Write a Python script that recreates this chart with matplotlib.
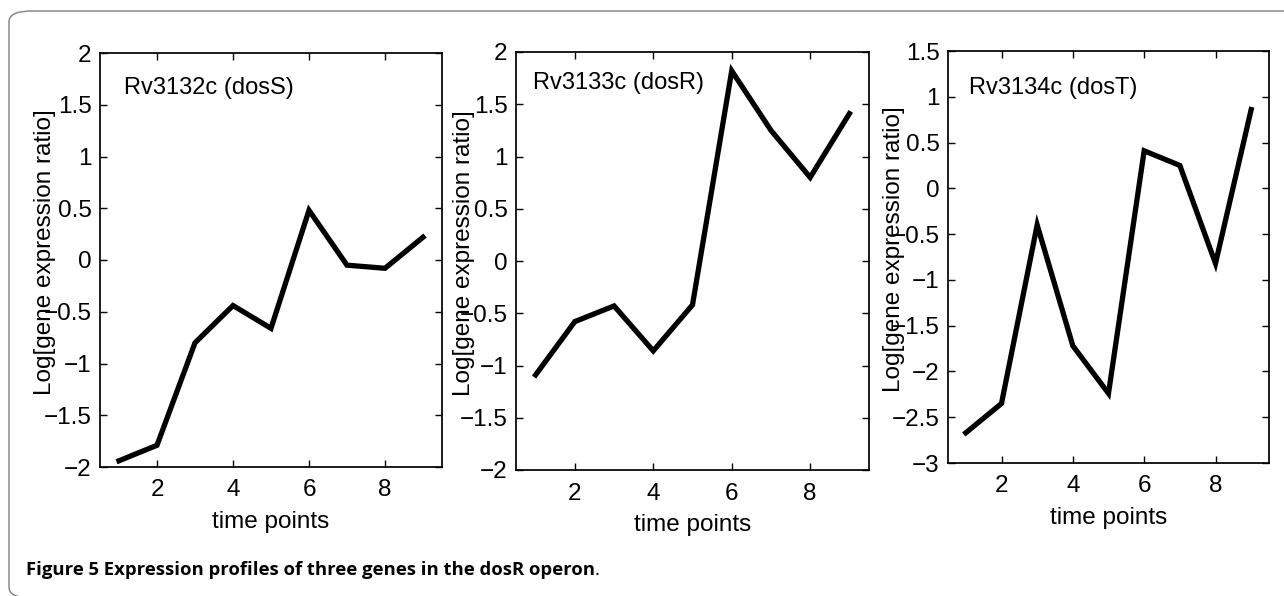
import matplotlib
matplotlib.use("Agg")
import matplotlib.pyplot as plt
from matplotlib.patches import FancyBboxPatch

time_points = [1, 2, 3, 4, 5, 6, 7, 8, 9]
dosS = [-1.94, -1.79, -0.80, -0.44, -0.66, 0.48, -0.05, -0.08, 0.22]
dosR = [-1.09, -0.58, -0.43, -0.86, -0.42, 1.82, 1.25, 0.80, 1.41]
dosT = [-2.67, -2.35, -0.40, -1.72, -2.24, 0.41, 0.25, -0.82, 0.86]
titles = ["Rv3132c (dosS)", "Rv3133c (dosR)", "Rv3134c (dosT)"]
ylims = [(-2, 2), (-2, 2), (-3, 1.5)]
xticks = [2, 4, 6, 8]
ylabel = "Log[gene expression ratio]"
xlabel = "time points"
caption_bold = "Figure 5 Expression profiles of three genes in the dosR operon"
caption_end = "."

plt.rcParams['font.family'] = ['Liberation Sans', 'DejaVu Sans']

W, H = 1284, 596
fig = plt.figure(figsize=(W / 100, H / 100), dpi=100)

# frame with rounded corners
frame = FancyBboxPatch((9 / W, -2 / H), (W + 40) / W, (H - 11 + 2) / H,
                       boxstyle="round,pad=0,rounding_size=0.018",
                       transform=fig.transFigure, facecolor='none',
                       edgecolor='#7f7f7f', linewidth=1.0, clip_on=False)
fig.patches.append(frame)

# axes rectangles in pixels: left, top, right, bottom
rects = [(100, 53, 442, 467), (516, 52, 869, 470), (948, 51, 1269, 463)]
ylab_x = [-0.129, -0.116, -0.134]
title_pos = [(0.07, 0.915), (0.048, 0.927), (0.064, 0.91)]
series = [dosS, dosR, dosT]

FS = 17.5
for i, (l, t, r, b) in enumerate(rects):
    ax = fig.add_axes([l / W, (H - b) / H, (r - l) / W, (b - t) / H])
    ax.plot(time_points, series[i], color='black', linewidth=3.8,
            solid_joinstyle='miter')
    ax.set_xlim(0.5, 9.5)
    ax.set_ylim(*ylims[i])
    ax.set_xticks(xticks)
    lo, hi = ylims[i]
    n = int(round((hi - lo) / 0.5))
    yt = [lo + 0.5 * k for k in range(n + 1)]
    ax.set_yticks(yt)
    ax.set_yticklabels([('%g' % v).replace('-', '\u2212') for v in yt])
    ax.tick_params(direction='in', top=True, right=True, length=5,
                   width=1.0, labelsize=FS)
    ax.tick_params(axis='y', pad=6)
    ax.tick_params(axis='x', pad=9)
    for s in ax.spines.values():
        s.set_linewidth(1.25)
    ax.set_xlabel(xlabel, fontsize=FS, labelpad=7)
    ax.set_ylabel(ylabel, fontsize=FS)
    ax.yaxis.set_label_coords(ylab_x[i], 0.518)
    ax.text(title_pos[i][0], title_pos[i][1], titles[i], transform=ax.transAxes,
            fontsize=17, va='center', ha='left')

cap = fig.text(26 / W, 1 - 570 / H, caption_bold, fontsize=13.3, fontweight='bold',
               family=['Open Sans', 'DejaVu Sans'], va='center', ha='left')
fig.canvas.draw()
bb = cap.get_window_extent()
fig.text(bb.x1 / W, 1 - 570 / H, caption_end, fontsize=13.3,
         family=['Open Sans', 'DejaVu Sans'], va='center', ha='left')

fig.savefig("out.png", dpi=100)
